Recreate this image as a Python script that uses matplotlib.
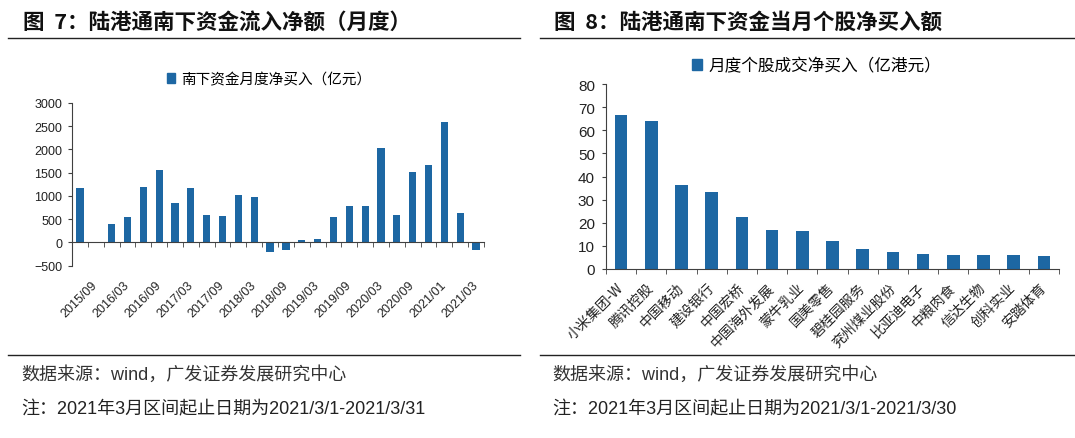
import matplotlib
matplotlib.use('Agg')
import matplotlib.pyplot as plt
from matplotlib.lines import Line2D
from matplotlib.patches import Patch

plt.rcParams['font.family'] = ['Liberation Sans', 'Noto Sans CJK SC', 'DejaVu Sans']

# 图7 数据：南下资金月度净买入（亿元）
south_values = [1167, 0, 387, 558, 1196, 1568, 845, 1167, 587, 566, 1031, 974, -200,
                -165, 50, 64, 551, 788, 788, 2041, 601, 1525, 1668, 2599, 623, -158]
south_ticklabels = ['2015/09', '2016/03', '2016/09', '2017/03', '2017/09', '2018/03',
                    '2018/09', '2019/03', '2019/09', '2020/03', '2020/09', '2021/01', '2021/03']

# 图8 数据：月度个股成交净买入（亿港元）
stocks = ['小米集团-W', '腾讯控股', '中国移动', '建设银行', '中国宏桥', '中国海外发展',
          '蒙牛乳业', '国美零售', '碧桂园服务', '兖州煤业股份', '比亚迪电子', '中粮肉食',
          '信达生物', '创科实业', '安踏体育']
stock_values = [66.7, 64.0, 36.2, 33.3, 22.5, 16.8, 16.2, 12.2, 8.6, 7.1, 6.5, 5.9, 5.9, 5.9, 5.6]

BAR = '#1d67a3'
AX = '#404040'
TXT = '#222222'

fig = plt.figure(figsize=(10.75, 4.39), dpi=100)

# ---------- 标题、分割线、脚注 ----------
fig.text(23 / 1075, 1 - 22 / 439, '图  7：陆港通南下资金流入净额（月度）', fontsize=15.5,
         fontweight='bold', family=['Noto Sans CJK SC'], va='center', ha='left', color='#111111')
fig.text(554 / 1075, 1 - 22 / 439, '图  8：陆港通南下资金当月个股净买入额', fontsize=15.5,
         fontweight='bold', family=['Noto Sans CJK SC'], va='center', ha='left', color='#111111')
for x0, x1 in [(8, 520), (540, 1075)]:
    for yy in (38.5, 355.7):
        fig.add_artist(Line2D([x0 / 1075, x1 / 1075], [1 - yy / 439, 1 - yy / 439],
                              color='#222222', lw=1.0))

fig.text(21 / 1075, 1 - 375 / 439, '数据来源：wind，广发证券发展研究中心', fontsize=13,
         va='center', ha='left', color='#333333')
fig.text(21 / 1075, 1 - 410 / 439, '注：2021年3月区间起止日期为2021/3/1-2021/3/31', fontsize=13,
         va='center', ha='left', color=TXT)
fig.text(552 / 1075, 1 - 375 / 439, '数据来源：wind，广发证券发展研究中心', fontsize=13,
         va='center', ha='left', color='#333333')
fig.text(552 / 1075, 1 - 410 / 439, '注：2021年3月区间起止日期为2021/3/1-2021/3/30', fontsize=13,
         va='center', ha='left', color=TXT)

# ---------- 图7 ----------
ax1 = fig.add_axes([72 / 1075, 1 - 266.7 / 439, 412 / 1075, 162.7 / 439])
x1 = list(range(len(south_values)))
ax1.bar(x1, south_values, width=0.46, color=BAR, zorder=2)
ax1.set_xlim(-0.5, len(south_values) - 0.5)
ax1.set_ylim(-500, 3000)
ax1.set_yticks(range(-500, 3001, 500))
ax1.spines['top'].set_visible(False)
ax1.spines['right'].set_visible(False)
ax1.spines['bottom'].set_position(('data', 0))
for s in ('left', 'bottom'):
    ax1.spines[s].set_color(AX)
ax1.set_xticks(list(range(1, len(south_values), 2)))
ax1.set_xticklabels(south_ticklabels, rotation=45, ha='right', va='center',
                    rotation_mode='anchor', fontsize=9, color=TXT)
ax1.set_xticks([i - 0.5 for i in range(len(south_values) + 1)], minor=True)
ax1.tick_params(axis='x', which='major', length=0, pad=29)
ax1.tick_params(axis='x', which='minor', length=3.5, direction='out', color=AX)
ax1.tick_params(axis='y', length=3, direction='out', color=AX, labelsize=9,
                labelcolor=TXT, pad=4)
ax1.legend(handles=[Patch(color=BAR, label='南下资金月度净买入（亿元）')],
           loc='center', bbox_to_anchor=(269 / 1075, 1 - 80 / 439),
           bbox_transform=fig.transFigure, frameon=False,
           handlelength=0.6, handleheight=0.6, handletextpad=0.4,
           prop={'family': ['Noto Sans CJK SC'], 'size': 10.5})

# ---------- 图8 ----------
ax2 = fig.add_axes([606 / 1075, 1 - 269.8 / 439, 453 / 1075, 184.5 / 439])
x2 = list(range(len(stocks)))
ax2.bar(x2, stock_values, width=0.42, color=BAR, zorder=2)
ax2.set_xlim(-0.5, len(stocks) - 0.5)
ax2.set_ylim(0, 80)
ax2.set_yticks(range(0, 81, 10))
ax2.spines['top'].set_visible(False)
ax2.spines['right'].set_visible(False)
for s in ('left', 'bottom'):
    ax2.spines[s].set_color(AX)
ax2.set_xticks(x2)
ax2.set_xticklabels(stocks, rotation=45, ha='right', va='center', rotation_mode='anchor',
                    fontsize=10, color=TXT, family=['Noto Sans CJK SC'])
ax2.set_xticks([i - 0.5 for i in range(len(stocks) + 1)], minor=True)
ax2.tick_params(axis='x', which='major', length=0, pad=12)
ax2.tick_params(axis='x', which='minor', length=3.5, direction='out', color=AX)
ax2.tick_params(axis='y', length=3, direction='out', color=AX, labelsize=11,
                labelcolor=TXT, pad=5)
ax2.legend(handles=[Patch(color=BAR, label='月度个股成交净买入（亿港元）')],
           loc='center', bbox_to_anchor=(817 / 1075, 1 - 66.6 / 439),
           bbox_transform=fig.transFigure, frameon=False,
           handlelength=0.6, handleheight=0.6, handletextpad=0.4,
           prop={'family': ['Noto Sans CJK SC'], 'size': 12})

fig.savefig('out.png', dpi=100)
